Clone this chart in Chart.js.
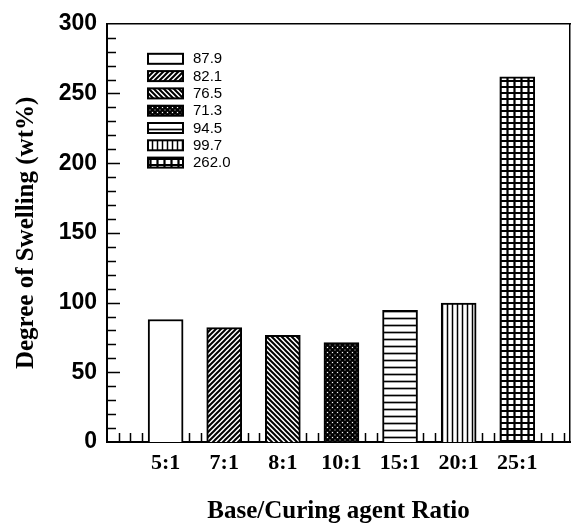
<!DOCTYPE html>
<html>
<head>
<meta charset="utf-8">
<script src="https://cdn.jsdelivr.net/npm/chart.js@4/dist/chart.umd.min.js"></script>
<style>
  html, body { margin: 0; padding: 0; background: #fff; }
  #wrap { width: 571px; height: 530px; }
</style>
</head>
<body>
<div id="wrap"><canvas id="chart"></canvas></div>
<script>
// values
const ratios   = ['5:1', '7:1', '8:1', '10:1', '15:1', '20:1', '25:1'];
const swelling = [87.9, 82.1, 76.5, 71.3, 94.5, 99.7, 262.0];
const fills    = ['none', 'fwd', 'back', 'dots', 'horiz', 'vert', 'grid'];
const yMinorStep = 10;
const xMinorStep = 0.2;

const SERIF = '"Liberation Serif", "Times New Roman", serif';
const SANS  = '"Liberation Sans", Arial, sans-serif';

function makePattern(kind) {
    if (kind === 'none') return '#ffffff';
    const sizes = { fwd: [5, 5], back: [5, 5], dots: [5, 5], horiz: [7, 7], vert: [5, 5], grid: [7, 6] };
    const [w, h] = sizes[kind];
    const c = document.createElement('canvas');
    c.width = w; c.height = h;
    const g = c.getContext('2d');
    g.fillStyle = '#fff';
    g.fillRect(0, 0, w, h);
    g.strokeStyle = '#000';
    g.beginPath();
    if (kind === 'fwd') {
        g.lineWidth = 2;
        g.moveTo(-1, h + 1); g.lineTo(w + 1, -1);
        g.moveTo(-1, 1); g.lineTo(1, -1);
        g.moveTo(w - 1, h + 1); g.lineTo(w + 1, h - 1);
    } else if (kind === 'back') {
        g.lineWidth = 2;
        g.moveTo(-1, -1); g.lineTo(w + 1, h + 1);
        g.moveTo(w - 1, -1); g.lineTo(w + 1, 1);
        g.moveTo(-1, h - 1); g.lineTo(1, h + 1);
    } else if (kind === 'dots') {
        g.fillStyle = '#000';
        g.fillRect(0, 0, w, h);
        g.fillStyle = '#fff';
        [[0, 0], [w, 0], [0, h], [w, h], [w / 2, h / 2]].forEach(([px, py]) => {
            g.moveTo(px + 1.1, py);
            g.arc(px, py, 1.1, 0, Math.PI * 2);
        });
        g.fill();
    } else if (kind === 'horiz') {
        g.lineWidth = 1.7;
        g.moveTo(0, h / 2); g.lineTo(w, h / 2);
    } else if (kind === 'vert') {
        g.lineWidth = 1.5;
        g.moveTo(w / 2, 0); g.lineTo(w / 2, h);
    } else if (kind === 'grid') {
        g.lineWidth = 2.2;
        g.moveTo(w / 2, 0); g.lineTo(w / 2, h);
        g.moveTo(0, h / 2); g.lineTo(w, h / 2);
    }
    g.stroke();
    return g.createPattern(c, 'repeat');
}

// minor/major tick marks drawn inside the frame
const innerTicks = {
    id: 'innerTicks',
    beforeDatasetsDraw(chart) {
        const { ctx, chartArea: a, scales: { x, y } } = chart;
        ctx.save();
        ctx.strokeStyle = '#000';
        ctx.lineWidth = 1.5;
        ctx.beginPath();
        for (let k = 1; k * yMinorStep < y.max; k++) {
            const py = Math.round(y.getPixelForValue(k * yMinorStep)) + 0.5;
            const len = k % 5 === 0 ? 13 : 9;
            ctx.moveTo(a.left, py); ctx.lineTo(a.left + len, py);
        }
        for (let k = 1; k * xMinorStep < x.max; k++) {
            const px = Math.round(x.getPixelForValue(k * xMinorStep)) + 0.5;
            const len = k % 5 === 0 ? 13 : 9;
            ctx.moveTo(px, a.bottom); ctx.lineTo(px, a.bottom - len);
        }
        ctx.stroke();
        ctx.restore();
    }
};

// legend boxes in the upper left of the plot
const boxLegend = {
    id: 'boxLegend',
    afterDatasetsDraw(chart) {
        const { ctx, chartArea: a } = chart;
        ctx.save();
        ctx.font = '15px ' + SANS;
        ctx.textBaseline = 'middle';
        chart.data.datasets.forEach((ds, i) => {
            const bx = a.left + 41, by = a.top + 30 + i * 17.3;
            ctx.fillStyle = ds.backgroundColor;
            ctx.fillRect(bx, by, 35, 10);
            ctx.lineWidth = 2;
            ctx.strokeStyle = '#000';
            ctx.strokeRect(bx, by, 35, 10);
            ctx.fillStyle = '#000';
            ctx.fillText(ds.label, bx + 45, by + 5.5);
        });
        ctx.restore();
    }
};

const datasets = ratios.map((r, i) => ({
    label: swelling[i].toFixed(1),
    data: [{ x: i + 1, y: swelling[i] }],
    backgroundColor: makePattern(fills[i]),
    borderColor: '#000',
    borderWidth: 2,
    barThickness: 35,
    grouped: false,
}));

new Chart(document.getElementById('chart'), {
    type: 'bar',
    data: { datasets },
    plugins: [innerTicks, boxLegend],
    options: {
        animation: false,
        responsive: true, maintainAspectRatio: false,
        layout: { padding: { top: 14, right: 1, bottom: 0, left: 0 } },
        plugins: { legend: { display: false }, tooltip: { enabled: false } },
        scales: {
            x: {
                type: 'linear', min: 0, max: 7.9, offset: false,
                grid: { display: false, drawTicks: false },
                border: { color: '#000', width: 2 },
                afterBuildTicks: s => { s.ticks = ratios.map((_, i) => ({ value: i + 1 })); },
                ticks: {
                    callback: (v, i) => ratios[i],
                    color: '#000', padding: 8, maxRotation: 0, autoSkip: false,
                    font: { family: SERIF, size: 22, weight: 'bold' },
                },
                title: {
                    display: true, text: 'Base/Curing agent Ratio', color: '#000',
                    font: { family: SERIF, size: 25, weight: 'bold' },
                    padding: { top: 0, bottom: 3 },
                },
                afterFit: s => { s.height = 88; },
            },
            y: {
                min: 0, max: 300,
                grid: { display: false, drawTicks: false },
                border: { color: '#000', width: 2 },
                ticks: {
                    stepSize: 50, padding: 10, color: '#000',
                    font: { family: SANS, size: 23, weight: 'bold' },
                },
                title: {
                    display: true, text: 'Degree of Swelling (wt%)', color: '#000',
                    font: { family: SERIF, size: 25, weight: 'bold' },
                    padding: { top: 12, bottom: 0 },
                },
                afterFit: s => { s.width = 107; },
            },
            xTop: {
                type: 'linear', position: 'top',
                grid: { display: false, drawTicks: false },
                ticks: { display: false },
                border: { color: '#000', width: 1.5 },
                afterFit: s => { s.height = 0; },
            },
            yRight: {
                type: 'linear', position: 'right',
                grid: { display: false, drawTicks: false },
                ticks: { display: false },
                border: { color: '#000', width: 1.5 },
                afterFit: s => { s.width = 0; },
            },
        },
    },
});
</script>
</body>
</html>
